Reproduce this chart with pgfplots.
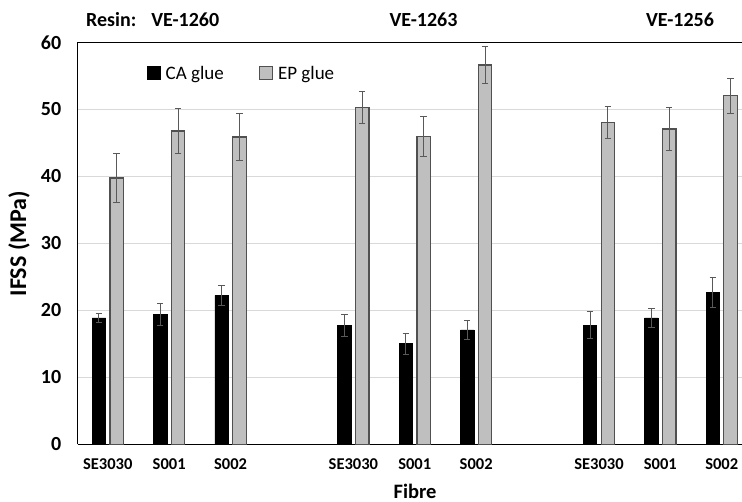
\documentclass[border=0pt]{standalone}
\usepackage{fontspec}
\setmainfont{Carlito}
\usepackage{pgfplots}
\pgfplotsset{compat=1.18}
\definecolor{barg}{HTML}{BFBFBF}
\definecolor{edg}{HTML}{505050}
\definecolor{errc}{HTML}{595959}
\definecolor{gridc}{HTML}{D9D9D9}
\pgfplotstableread{
x y e
0 18.85 0.65
1 19.35 1.65
2 22.24 1.5
4 17.76 1.6
5 15.0 1.6
6 17.06 1.45
8 17.76 2.0
9 18.85 1.45
10 22.69 2.2
}\ca
\pgfplotstableread{
x y e
0 39.75 3.65
1 46.76 3.3
2 45.87 3.45
4 50.3 2.4
5 45.97 3.0
6 56.6 2.8
8 48.0 2.4
9 47.06 3.2
10 52.03 2.6
}\ep
\begin{document}
\begin{tikzpicture}
\begin{axis}[
 at={(77.7pt,57.7pt)}, anchor=south west,
 scale only axis, width=664.3pt, height=402pt,
 xmin=-0.49, xmax=10.33, ymin=0, ymax=60,
 ybar=4.3pt, bar width=13.5pt,
 axis x line*=bottom, axis y line*=left,
 axis line style={black, line width=1.2pt},
 ytick={0,10,...,60}, ymajorgrids, grid style={gridc, line width=1pt},
 xtick={0,1,2,4,5,6,8,9,10},
 xticklabels={SE3030,S001,S002,SE3030,S001,S002,SE3030,S001,S002},
 major tick length=0pt,
 /pgf/number format/assume math mode=true,
 yticklabel style={font=\bfseries\fontsize{20}{24}\selectfont, anchor=east, xshift=-13pt},
 xticklabel style={font=\bfseries\fontsize{16.5}{20}\selectfont, anchor=north, yshift=-10.5pt},
 clip=false,
 legend style={draw=none, fill=none, at={(rel axis cs:0.1039,0.9229)}, anchor=west,
   legend columns=2, inner sep=0pt,
   /tikz/every even column/.append style={column sep=33pt},
   font=\fontsize{19}{22}\selectfont, cells={anchor=west}},
 legend image code/.code={\draw[#1] (0pt,-6.5pt) rectangle (13pt,6.5pt);},
 error bars/error bar style={errc, line width=0.9pt},
 error bars/error mark options={errc, rotate=90, mark size=3.2pt, line width=0.9pt},
]
\draw[black, line width=1.2pt] (rel axis cs:0,1) -- (rel axis cs:1,1);
\addplot[fill=black, draw=black, line width=0.8pt,
  error bars/.cd, y dir=both, y explicit] table[x=x, y=y, y error=e] {\ca};
\addlegendentry{\hspace{3pt}CA glue}
\addplot[fill=barg, draw=edg, line width=1.2pt,
  error bars/.cd, y dir=both, y explicit] table[x=x, y=y, y error=e] {\ep};
\addlegendentry{\hspace{3pt}EP glue}
\end{axis}
\node[anchor=west, inner sep=0pt, font=\bfseries\fontsize{20}{24}\selectfont] at (86pt,482pt) {Resin:\hspace{0.75em}VE-1260};
\node[inner sep=0pt, font=\bfseries\fontsize{20}{24}\selectfont] at (423.5pt,482pt) {VE-1263};
\node[inner sep=0pt, font=\bfseries\fontsize{20}{24}\selectfont] at (680pt,482pt) {VE-1256};
\node[rotate=90, inner sep=0pt, font=\bfseries\fontsize{24}{28}\selectfont] at (19pt,258.5pt) {IFSS (MPa)};
\node[inner sep=0pt, font=\bfseries\fontsize{20.5}{24}\selectfont] at (415pt,11pt) {Fibre};
\pgfresetboundingbox
\path (0pt,0pt) rectangle (742pt,502pt);
\end{tikzpicture}
\end{document}
